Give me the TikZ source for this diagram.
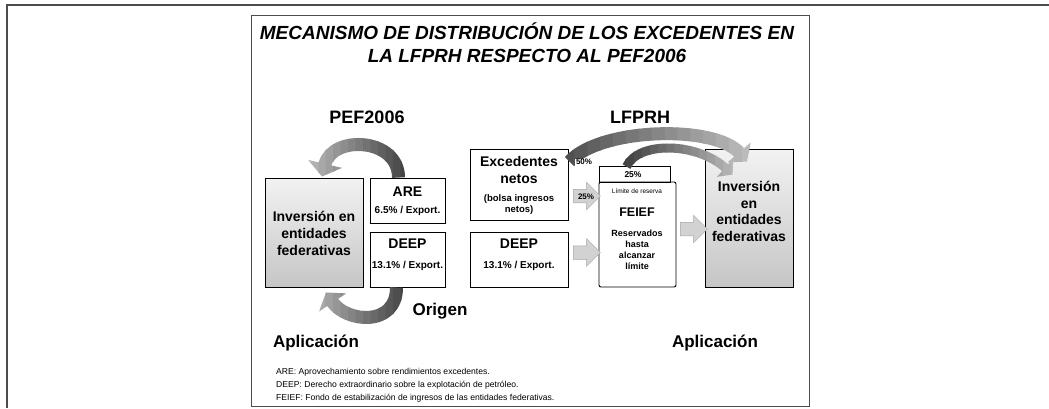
\documentclass[tikz,border=0pt]{standalone}
\usepackage{fontspec}
\setmainfont{Liberation Sans}
\usetikzlibrary{arrows.meta,calc,shapes.arrows}
\newcommand{\gradpath}[5]{%
  \foreach \k in {0,...,15}{%
    \pgfmathsetmacro{\xa}{#1+(#2-#1)*\k/16-0.4}%
    \pgfmathsetmacro{\xb}{#1+(#2-#1)*(\k+1)/16+0.4}%
    \pgfmathsetmacro{\pc}{#3+(#4-#3)*(\k+0.5)/16}%
    \begin{scope}
      \clip (\xa,-10) rectangle (\xb,420);
      \colorlet{cc}{black!\pc}%
      #5
    \end{scope}
  }%
}
\tikzset{
  box/.style={draw, line width=0.9pt, inner sep=0pt},
  shbox/.style={box, top color=gray!10, bottom color=gray!45},
  txt/.style={inner sep=0pt, align=center},
  big/.style={txt, font=\fontsize{14}{16.7}\selectfont\bfseries},
  sml/.style={txt, font=\fontsize{10}{11}\selectfont\bfseries},
  head/.style={txt, font=\fontsize{18}{21}\selectfont\bfseries},
  blk/.style={single arrow, draw=gray!70, fill=gray!35, line width=0.5pt,
    inner sep=6.5pt, single arrow head extend=7pt, minimum height=27pt},
  foot/.style={anchor=west, inner sep=0pt, font=\fontsize{8.6}{10}\selectfont},
}
\begin{document}
\begin{tikzpicture}[x=1pt,y=-1pt]
\useasboundingbox (0,0) rectangle (1049,408);
% frames
\draw[line width=1.5pt, gray!60!black] (7,408) -- (7,5) -- (1049,5);
\draw[line width=1pt, gray!60!black] (251,15) rectangle (809,406);
% title
\node[txt, font=\fontsize{19}{23}\selectfont\bfseries\itshape] (title) at (527,43)
  {MECANISMO DE DISTRIBUCIÓN DE LOS EXCEDENTES EN\\LA LFPRH RESPECTO AL PEF2006};
\node[head] (pef) at (367,117) {PEF2006};
\node[head] (lfprh) at (640,117) {LFPRH};
% left side boxes
\node[shbox, minimum width=98pt, minimum height=109pt] (invL) at (314,232.5) {};
\node[box, minimum width=75pt, minimum height=45pt] (areL) at (407.5,200.5) {};
\node[box, minimum width=75pt, minimum height=55pt] (deepL) at (407.5,259.5) {};
\node[big] (invLt) at (314,233.5) {Inversión en\\entidades\\federativas};
\node[big] (areLt) at (407.5,192) {ARE};
\node[sml] (areLs) at (407.5,210.5) {6.5\% / Export.};
\node[big] (deepLt) at (407.5,244) {DEEP};
\node[sml] (deepLs) at (407.5,265.5) {13.1\% / Export.};
% right side boxes
\node[box, minimum width=98pt, minimum height=71pt] (exc) at (519,184.5) {};
\node[box, minimum width=98pt, minimum height=55pt] (deepR) at (519,259.5) {};
\node[box, minimum width=71pt, minimum height=16pt] (feieftop) at (634.5,174) {};
\node[box, rounded corners=2pt, minimum width=77pt, minimum height=105pt] (feief) at (637.5,234.5) {};
\node[shbox, minimum width=88pt, minimum height=138pt] (invR) at (749,218) {};
\node[big] (excA) at (519,170) {Excedentes\\netos};
\node[txt, font=\fontsize{9.5}{11}\selectfont\bfseries] (excB) at (519,204.5) {(bolsa ingresos\\netos)};
\node[big] (deepRt) at (519,244) {DEEP};
\node[sml] (deepRs) at (519,265.5) {13.1\% / Export.};
\node[txt, font=\fontsize{8.5}{10}\selectfont\bfseries] (p25top) at (633,174.5) {25\%};
\node[txt, font=\fontsize{6.5}{8}\selectfont] (lim) at (637,191.5) {Límite de reserva};
\node[txt, font=\fontsize{12.5}{14}\selectfont\bfseries] (feieft) at (637,212) {FEIEF};
\node[txt, font=\fontsize{9}{11}\selectfont\bfseries] (feiefs) at (637,249.5) {Reservados\\hasta\\alcanzar\\límite};
\node[big] (invRt) at (749,211.5) {Inversión\\en\\entidades\\federativas};
% straight block arrows
\node[blk] (a1) at (583.5,196) {};
\node[blk] (a2) at (583.5,252.5) {};
\node[blk] (a3) at (690.5,229) {};
\node[txt, font=\fontsize{8}{9}\selectfont\bfseries] (p25a) at (586,197) {25\%};
% curved arrows
\gradpath{296}{416}{22}{78}{\draw[line width=13pt, color=cc, -{Triangle[width=34pt,length=13pt]}]
  ($(areL.north)+(-9,0)$) .. controls +(0,-40) and +(10,-42) .. ($(invL.north)+(8,-1)$);}
\gradpath{296}{416}{22}{78}{\draw[line width=13pt, color=cc, -{Triangle[width=32pt,length=12pt]}]
  ($(deepL.south)+(-11,0)$) .. controls +(0,40) and +(20,30) .. ($(invL.south)+(12,5)$);}
\gradpath{562}{768}{70}{22}{\draw[line width=13pt, color=cc, -{Triangle[width=30pt,length=12pt]}]
  ($(exc.north east)+(1,13)$) .. controls +(31,-34) and +(-32,-37) .. ($(invR.north)+(-2,13)$);}
\gradpath{618}{748}{78}{22}{\draw[line width=9pt, color=cc, -{Triangle[width=24pt,length=10pt]}]
  ($(feieftop.north)+(-8,1)$) .. controls +(12,-26) and +(-35,-32) .. ($(invR.north west)+(28,26)$);}
\node[txt, fill=white, inner sep=0.6pt, font=\fontsize{8}{9}\selectfont\bfseries] (p50) at (584,162) {50\%};
% bottom labels
\node[txt, font=\fontsize{17}{20}\selectfont\bfseries] (orig) at (440,311) {Origen};
\node[txt, font=\fontsize{17}{20}\selectfont\bfseries] (apL) at (316,343) {Aplicación};
\node[txt, font=\fontsize{17}{20}\selectfont\bfseries] (apR) at (715,343) {Aplicación};
\node[foot] (fn1) at (276,372) {ARE: Aprovechamiento sobre rendimientos excedentes.};
\node[foot] (fn2) at (276,385) {DEEP: Derecho extraordinario sobre la explotación de petróleo.};
\node[foot] (fn3) at (276,398) {FEIEF: Fondo de estabilización de ingresos de las entidades federativas.};
\end{tikzpicture}
\end{document}
